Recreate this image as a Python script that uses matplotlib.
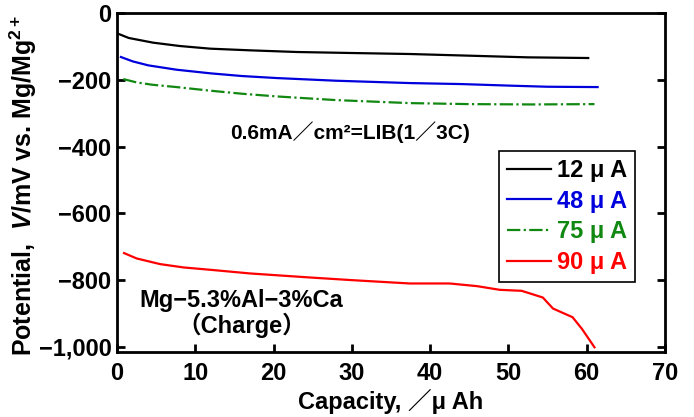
import numpy as np
import matplotlib
matplotlib.use("Agg")
import matplotlib.pyplot as plt

plt.rcParams['font.family'] = ['Liberation Sans', 'Noto Sans CJK JP', 'DejaVu Sans']
plt.rcParams['font.weight'] = 'bold'
plt.rcParams['axes.labelweight'] = 'bold'
plt.rcParams['mathtext.default'] = 'regular'
plt.rcParams['mathtext.fontset'] = 'custom'
plt.rcParams['mathtext.rm'] = 'Liberation Sans:bold'
plt.rcParams['mathtext.it'] = 'Liberation Sans:italic:bold'

# capacity (uAh) / potential (mV)
cap_12 = [0.0, 1.5, 4.6, 8.0, 11.9, 17.0, 23.0, 30.0, 37.4, 45.0, 52.5, 60.2]
pot_12 = [-61, -75, -89, -99, -107, -112, -117, -120, -123, -128, -133, -135]

cap_48 = [0.5, 2.0, 4.0, 7.6, 12.0, 16.0, 20.4, 28.0, 37.4, 44.0, 50.6, 55.0, 61.4]
pot_48 = [-132, -145, -157, -170, -181, -189, -195, -203, -210, -213, -218, -221, -222]

cap_75 = [0.8, 2.5, 4.5, 7.6, 12.0, 16.0, 20.4, 28.0, 37.4, 45.0, 53.0, 61.0]
pot_75 = [-198, -208, -215, -222, -233, -242, -250, -261, -270, -273, -274, -273]

cap_90 = [0.9, 2.5, 5.5, 8.5, 11.9, 17.0, 24.6, 30.0, 37.4, 42.5, 46.0, 48.9, 51.7,
          54.4, 55.7, 58.2, 59.4, 61.0]
pot_90 = [-719, -735, -752, -762, -769, -780, -792, -800, -810, -810, -818, -829, -832,
          -852, -885, -911, -946, -1001]

legend_labels = ['12 μ A', '48 μ A', '75 μ A', '90 μ A']
line_colors = ['#000000', '#0000dd', '#118811', '#ff0000']

x_ticks = [0, 10, 20, 30, 40, 50, 60, 70]
y_ticks = [0, -200, -400, -600, -800, -1000]
y_tick_labels = ['0', '−200', '−400', '−600', '−800', '−1,000']

fig = plt.figure(figsize=(6.94, 4.17), dpi=100)
ax = fig.add_axes([0.1686, 0.156, 0.7895, 0.813])

l1, = ax.plot(cap_12, pot_12, color=line_colors[0], lw=1.6)
l2, = ax.plot(cap_48, pot_48, color=line_colors[1], lw=1.6)
l3, = ax.plot(cap_75, pot_75, color=line_colors[2], lw=1.6, linestyle=(0, (6, 1.5, 1, 1.5)))
l4, = ax.plot(cap_90, pot_90, color=line_colors[3], lw=1.6)

ax.set_xlim(0, 70)
ax.set_ylim(-1015, 0)
ax.set_xticks(x_ticks)
ax.set_yticks(y_ticks)
ax.set_yticklabels(y_tick_labels)
ax.tick_params(direction='in', length=6, width=2, labelsize=17, right=True, top=False)
ax.tick_params(axis='y', pad=4)
ax.tick_params(axis='x', pad=7)
for lab in ax.get_xticklabels() + ax.get_yticklabels():
    lab.set_fontweight('bold')
for s in ax.spines.values():
    s.set_linewidth(2)

ax.set_xlabel('Capacity, ／μ Ah', fontsize=17, fontweight='bold', labelpad=3)
ax.set_ylabel('Potential,  $\\it{V}$/mV vs. Mg/Mg$^{2+}$', fontsize=18, fontweight='bold')
ax.yaxis.set_label_coords(-0.142, 0.49)

ax.text(29.8, -358, '0.6mA／cm²=LIB(1／3C)', fontsize=15, ha='center', va='center')
ax.text(15.9, -900, 'Mg−5.3%Al−3%Ca\n（Charge）', fontsize=17, ha='center', va='center',
        multialignment='center', linespacing=1.05)

leg = ax.legend([l1, l2, l3, l4], legend_labels, loc='upper left',
                bbox_to_anchor=(0.697, 0.593), borderaxespad=0, fontsize=17,
                handlelength=1.85, handletextpad=0.25, labelspacing=0.32,
                borderpad=0.35, fancybox=False, framealpha=1)
leg.get_frame().set_edgecolor('black')
leg.get_frame().set_linewidth(1.2)
for t, c in zip(leg.get_texts(), line_colors):
    t.set_color(c)

fig.savefig('out.png', dpi=100)
